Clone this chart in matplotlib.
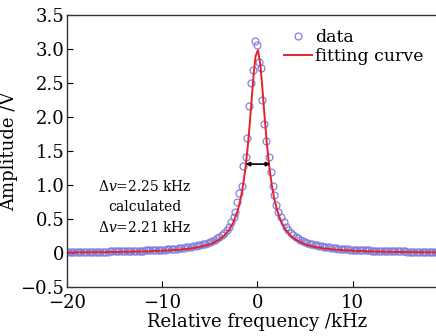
import matplotlib
matplotlib.use("Agg")
import matplotlib.pyplot as plt

plt.rcParams['font.family'] = ['DejaVu Serif']
plt.rcParams['mathtext.fontset'] = 'dejavuserif'

# measured data, kHz / V
left_freq = [-20.0, -19.75, -19.5, -19.25, -19.0, -18.75, -18.5, -18.25, -18.0, -17.75,
             -17.5, -17.25, -17.0, -16.75, -16.5, -16.25, -16.0, -15.75, -15.5, -15.25,
             -15.0, -14.75, -14.5, -14.25, -14.0, -13.75, -13.5, -13.25, -13.0, -12.75,
             -12.5, -12.25, -12.0, -11.75, -11.5, -11.25, -11.0, -10.75, -10.5, -10.25,
             -10.0, -9.75, -9.5, -9.25, -9.0, -8.75, -8.5, -8.25, -8.0, -7.75,
             -7.5, -7.25, -7.0, -6.75, -6.5, -6.25, -6.0, -5.75, -5.5, -5.25,
             -5.0, -4.75, -4.5, -4.25, -4.0, -3.75, -3.5, -3.25, -3.0, -2.75, -2.5]
left_amp = [0.015, 0.015, 0.015, 0.016, 0.016, 0.016, 0.017, 0.017, 0.018, 0.018,
            0.019, 0.019, 0.020, 0.020, 0.021, 0.021, 0.022, 0.022, 0.023, 0.024,
            0.024, 0.025, 0.026, 0.027, 0.027, 0.028, 0.029, 0.030, 0.031, 0.032,
            0.033, 0.034, 0.035, 0.037, 0.038, 0.040, 0.041, 0.043, 0.045, 0.047,
            0.049, 0.051, 0.053, 0.056, 0.059, 0.062, 0.065, 0.069, 0.073, 0.077,
            0.082, 0.087, 0.092, 0.098, 0.105, 0.112, 0.120, 0.129, 0.139, 0.150,
            0.163, 0.178, 0.195, 0.215, 0.24, 0.27, 0.30, 0.34, 0.39, 0.45, 0.53]
center_freq = [-2.31, -2.10, -1.95, -1.61, -1.50, -1.22, -1.08, -0.90, -0.69, -0.52,
               -0.24, 0.0, 0.21, 0.36, 0.52, 0.73, 0.88, 1.20, 1.41, 1.62, 1.75, 1.99, 2.20]
center_amp = [0.61, 0.75, 0.89, 0.99, 1.28, 1.42, 1.70, 2.17, 2.51, 2.70,
              3.12, 3.06, 2.82, 2.72, 2.26, 1.90, 1.65, 1.41, 1.19, 0.99, 0.85, 0.71, 0.61]
right_freq = [2.5, 2.75, 3.0, 3.25, 3.5, 3.75, 4.0, 4.25, 4.5, 4.75,
              5.0, 5.25, 5.5, 5.75, 6.0, 6.25, 6.5, 6.75, 7.0, 7.25,
              7.5, 7.75, 8.0, 8.25, 8.5, 8.75, 9.0, 9.25, 9.5, 9.75,
              10.0, 10.25, 10.5, 10.75, 11.0, 11.25, 11.5, 11.75, 12.0, 12.25,
              12.5, 12.75, 13.0, 13.25, 13.5, 13.75, 14.0, 14.25, 14.5, 14.75,
              15.0, 15.25, 15.5, 15.75, 16.0, 16.25, 16.5, 16.75, 17.0, 17.25,
              17.5, 17.75, 18.0, 18.25, 18.5, 18.75, 19.0]
right_amp = [0.53, 0.45, 0.39, 0.34, 0.30, 0.27, 0.24, 0.215, 0.195, 0.178,
             0.163, 0.150, 0.139, 0.129, 0.120, 0.112, 0.105, 0.098, 0.092, 0.087,
             0.082, 0.077, 0.073, 0.069, 0.065, 0.062, 0.059, 0.056, 0.053, 0.051,
             0.049, 0.047, 0.045, 0.043, 0.041, 0.040, 0.038, 0.037, 0.035, 0.034,
             0.033, 0.032, 0.031, 0.030, 0.029, 0.028, 0.027, 0.027, 0.026, 0.025,
             0.024, 0.024, 0.023, 0.022, 0.022, 0.021, 0.021, 0.020, 0.020, 0.019,
             0.019, 0.018, 0.018, 0.017, 0.017, 0.016, 0.016]

# fitted curve
fit_freq = [-20, -18, -16, -14, -12, -10, -9, -8, -7, -6, -5.5, -5, -4.5, -4, -3.5, -3,
            -2.75, -2.5, -2.25, -2, -1.75, -1.5, -1.25, -1, -0.8, -0.6, -0.4, -0.2, 0.05,
            0.3, 0.5, 0.75, 1, 1.25, 1.5, 1.75, 2, 2.25, 2.5, 2.75, 3, 3.5, 4, 4.5, 5,
            5.5, 6, 7, 8, 9, 10, 12, 14, 16, 18, 20]
fit_amp = [0.008, 0.010, 0.013, 0.017, 0.023, 0.034, 0.042, 0.052, 0.068, 0.092, 0.109,
           0.130, 0.160, 0.199, 0.255, 0.336, 0.392, 0.462, 0.550, 0.664, 0.812, 1.007,
           1.263, 1.596, 1.919, 2.278, 2.63, 2.90, 2.99, 2.78, 2.46, 2.01, 1.596, 1.263,
           1.007, 0.812, 0.664, 0.550, 0.462, 0.392, 0.336, 0.255, 0.199, 0.160, 0.130,
           0.109, 0.092, 0.068, 0.052, 0.042, 0.034, 0.023, 0.017, 0.013, 0.010, 0.008]

yticks = [-0.5, 0, 0.5, 1.0, 1.5, 2.0, 2.5, 3.0, 3.5]
ytick_labels = ['\u22120.5', '0', '0.5', '1.0', '1.5', '2.0', '2.5', '3.0', '3.5']
xticks = [-20, -10, 0, 10]
xtick_labels = ['\u221220', '\u221210', '0', '10']

fig = plt.figure(figsize=(4.36, 3.36), dpi=100)
ax = fig.add_axes([0.154, 0.146, 0.873, 0.808])

data_freq = left_freq + center_freq + right_freq
data_amp = left_amp + center_amp + right_amp
ax.plot(data_freq, data_amp, 'o', mfc='none', mec='#8282dc', mew=0.9, ms=5, label='data')
ax.plot(fit_freq, fit_amp, color='#e8202a', lw=1.4, label='fitting curve')

# FWHM arrow
ax.annotate('', xy=(-1.26, 1.31), xytext=(1.37, 1.31),
            arrowprops=dict(arrowstyle='<|-|>', color='black', lw=1.2,
                            mutation_scale=6, shrinkA=0, shrinkB=0))

ax.text(-11.8, 0.98, r'$\Delta v$=2.25 kHz', ha='center', va='center', fontsize=10)
ax.text(-11.8, 0.68, 'calculated', ha='center', va='center', fontsize=10)
ax.text(-11.8, 0.37, r'$\Delta v$=2.21 kHz', ha='center', va='center', fontsize=10)

ax.set_xlim(-20, 20)
ax.set_ylim(-0.5, 3.5)
ax.set_xticks(xticks)
ax.set_xticklabels(xtick_labels)
ax.set_yticks(yticks)
ax.set_yticklabels(ytick_labels)
ax.tick_params(direction='in', labelsize=13, length=4, width=0.8, pad=2)
ax.tick_params(axis='x', pad=5)
ax.spines['right'].set_visible(False)
for s in ['left', 'top', 'bottom']:
    ax.spines[s].set_color('#333333')
    ax.spines[s].set_linewidth(1.0)

ax.set_xlabel('Relative frequency /kHz', fontsize=13, labelpad=1)
ax.set_ylabel('Amplitude /V', fontsize=13, labelpad=2)

ax.legend(loc='upper right', bbox_to_anchor=(0.955, 0.975), frameon=False, fontsize=12.5,
          handlelength=1.6, handletextpad=0.2, labelspacing=0.1, borderaxespad=0)

fig.savefig('out.png', dpi=100)
